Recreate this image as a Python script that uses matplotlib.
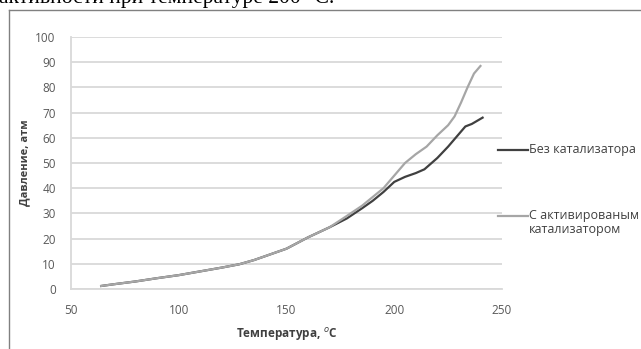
import matplotlib
matplotlib.use("Agg")
import matplotlib.pyplot as plt
from matplotlib.lines import Line2D

plt.rcParams['font.family'] = ['Open Sans', 'DejaVu Sans']

temp_none = [64, 70, 80, 90, 100, 110, 120, 128, 135, 140, 150, 160, 170, 178, 185,
             190, 195, 200, 205, 210, 214, 220, 225, 230, 233, 236, 238, 241]
press_none = [1.2, 1.9, 3.0, 4.3, 5.5, 7.0, 8.5, 9.8, 11.5, 13.0, 16.0, 20.5, 24.5, 28.0, 32.0,
              35.0, 38.5, 42.5, 44.5, 46.0, 47.5, 52.0, 56.5, 61.5, 64.5, 65.5, 66.5, 68.0]

temp_act = [64, 70, 80, 90, 100, 110, 120, 128, 135, 140, 150, 160, 170, 178, 185,
            190, 195, 200, 205, 210, 215, 220, 225, 228, 231, 234, 237, 240]
press_act = [1.2, 1.9, 3.0, 4.3, 5.5, 7.0, 8.5, 9.8, 11.5, 13.0, 16.0, 20.5, 24.5, 29.0, 33.0,
             36.5, 40.0, 45.0, 50.0, 53.5, 56.5, 61.0, 65.0, 68.5, 74.0, 80.0, 85.5, 88.5]

series_names = ["Без катализатора", "С активированым\nкатализатором"]
x_ticks = [50, 100, 150, 200, 250]
y_ticks = [0, 10, 20, 30, 40, 50, 60, 70, 80, 90, 100]

W, H = 641, 349
fig = plt.figure(figsize=(W / 100, H / 100), dpi=100)

def fx(px):
    return px / W

def fy(py):
    return 1 - py / H

ax = fig.add_axes([fx(71), fy(289), fx(502) - fx(71), fy(37) - fy(289)])

grid_c = '#d9d9d9'
ax.plot(temp_none, press_none, color='#404040', lw=1.6, zorder=3)
ax.plot(temp_act, press_act, color='#a6a6a6', lw=1.6, zorder=4)

ax.set_xlim(50, 250)
ax.set_ylim(0, 100)
ax.set_xticks(x_ticks)
ax.set_yticks(y_ticks)
ax.yaxis.grid(True, color=grid_c, lw=1.3)
ax.set_axisbelow(True)
for s in ['top', 'right']:
    ax.spines[s].set_visible(False)
for s in ['left', 'bottom']:
    ax.spines[s].set_color(grid_c)
    ax.spines[s].set_linewidth(1.3)
ax.tick_params(length=0, labelsize=8.5, colors='#595959')
ax.tick_params(axis='y', pad=11)
ax.tick_params(axis='x', pad=11)

ax.set_ylabel("Давление, атм", fontsize=8, fontweight='bold', color='#404040')
ax.set_xlabel("Температура, $^{o}$C", fontsize=8.5, fontweight='bold', color='#404040')
ax.yaxis.set_label_coords(-0.095, 0.5)
ax.xaxis.set_label_coords(0.5, -0.147)

# legend
fig.add_artist(Line2D([fx(498), fx(528)], [fy(150), fy(150)], color='#404040', lw=1.6))
fig.add_artist(Line2D([fx(498), fx(528)], [fy(216), fy(216)], color='#a6a6a6', lw=1.6))
fig.text(fx(529), fy(150), series_names[0], fontsize=9, color='#404040', va='center', ha='left')
fig.text(fx(529), fy(216), series_names[1].split("\n")[0], fontsize=9, color='#404040', va='center', ha='left')
fig.text(fx(529), fy(229), series_names[1].split("\n")[1], fontsize=9, color='#404040', va='center', ha='left')

# outer frame
fig.add_artist(Line2D([fx(8.5), fx(W)], [fy(9.5), fy(9.5)], color='#808080', lw=1.0))
fig.add_artist(Line2D([fx(8.5), fx(8.5)], [fy(9.5), fy(H)], color='#808080', lw=1.0))

# cropped caption from the page above
fig.text(fx(-1), fy(3.5), "активности при температуре 200 °С.", fontsize=15.5,
         family='Liberation Serif', va='baseline', ha='left', color='black')

fig.savefig("out.png", dpi=100)
